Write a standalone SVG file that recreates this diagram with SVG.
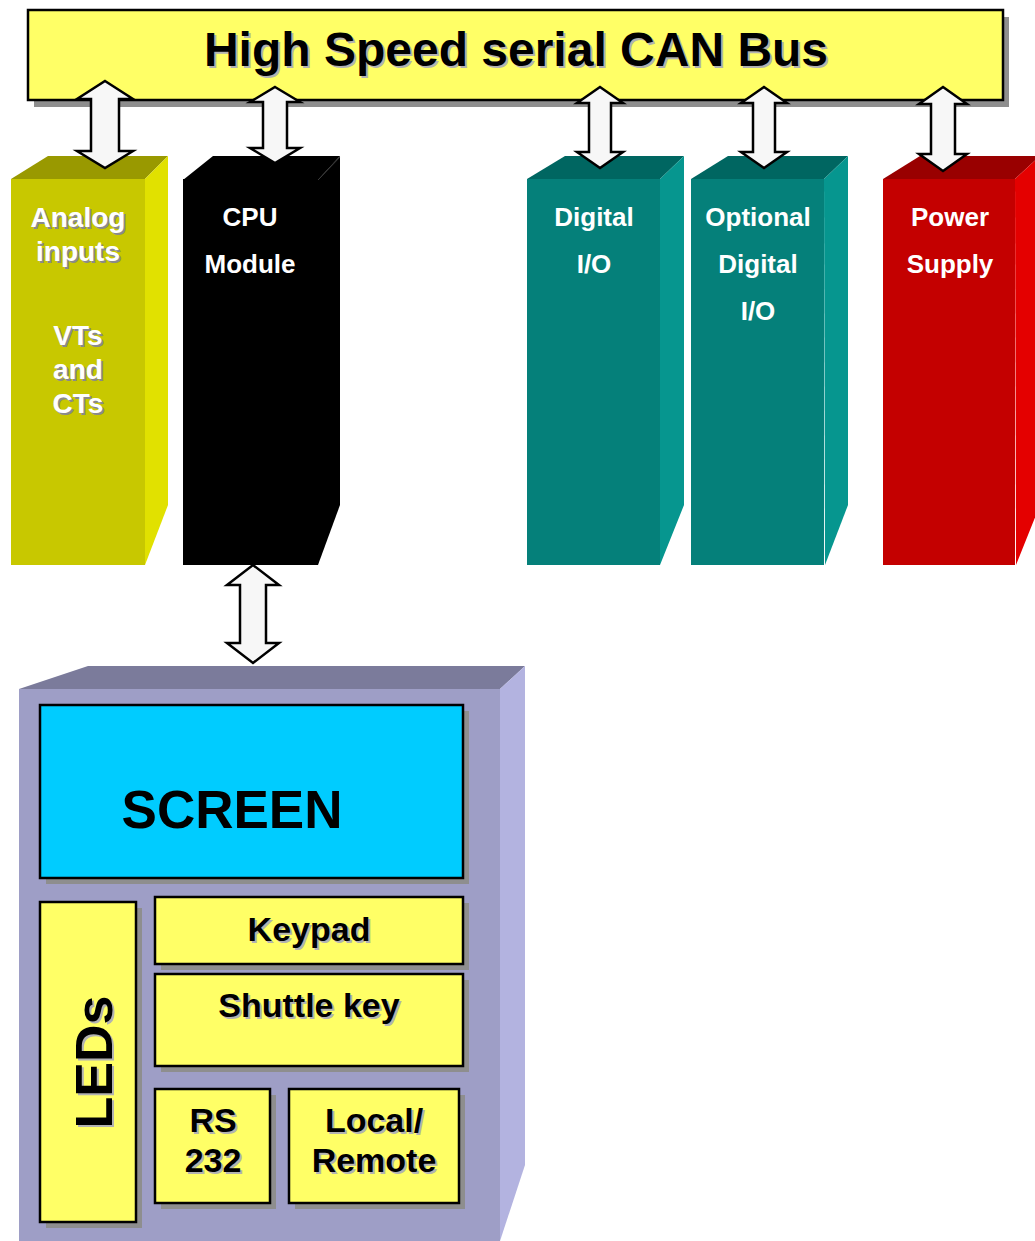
<svg xmlns="http://www.w3.org/2000/svg" width="1035" height="1241" viewBox="0 0 1035 1241">
<style>
.t{font-family:"Liberation Sans",Arial,sans-serif;font-weight:bold;text-anchor:middle}
.w{fill:#ffffff}
.k{fill:#000000}
.sh{fill:#b2b2b2}
.wsh{fill:#8a8a8a}
.box{stroke:#000;stroke-width:2.5}
.shadow{fill:#8e8e8e}
.arrow{fill:#f7f7f7;stroke:#000;stroke-width:2.5;stroke-linejoin:miter}
.yf{fill:#c8c800}.yt{fill:#999900}.ys{fill:#e1e100}
.tf{fill:#05807a}.tt{fill:#006661}.ts{fill:#06968f}
.rf{fill:#c40000}.rt{fill:#990000}.rs{fill:#e40000}
</style>
<rect width="1035" height="1241" fill="#ffffff"/>

<g id="bus">
<rect x="34" y="17" width="975" height="90" class="shadow"/>
<rect x="28" y="10" width="975" height="90" fill="#ffff66" class="box"/>
<text x="518" y="68" class="t sh" font-size="48">High Speed serial CAN Bus</text>
<text x="516" y="66" class="t k" font-size="48">High Speed serial CAN Bus</text>
</g>

<g id="analog">
<rect x="11" y="179" width="134" height="386" class="yf"/>
<polygon points="11,179 48,156 168,156 145,179" class="yt"/>
<polygon points="145,179 168,156 168,505 145,565" class="ys"/>
<g font-size="28">
<text x="80" y="229" class="t wsh">Analog</text>
<text x="78" y="227" class="t w">Analog</text>
<text x="80" y="263" class="t wsh">inputs</text>
<text x="78" y="261" class="t w">inputs</text>
<text x="80" y="347" class="t wsh">VTs</text>
<text x="78" y="345" class="t w">VTs</text>
<text x="80" y="381" class="t wsh">and</text>
<text x="78" y="379" class="t w">and</text>
<text x="80" y="415" class="t wsh">CTs</text>
<text x="78" y="413" class="t w">CTs</text>
</g>
</g>

<g id="cpu">
<rect x="183" y="179" width="135" height="386" fill="#000"/>
<polygon points="183,180 213,156 340,156 318,180" fill="#000"/>
<polygon points="318,180 340,156 340,505 318,565" fill="#000"/>
<line x1="318" y1="180" x2="340" y2="157" stroke="#3a3a3a" stroke-width="1"/>
<g font-size="26">
<text x="250" y="226" class="t w">CPU</text>
<text x="250" y="273" class="t w">Module</text>
</g>
</g>

<g id="digital">
<rect x="527" y="179" width="133" height="386" class="tf"/>
<polygon points="527,179 565,156 684,156 660,179" class="tt"/>
<polygon points="660,179 684,156 684,505 660,565" class="ts"/>
<g font-size="26">
<text x="594" y="226" class="t w">Digital</text>
<text x="594" y="273" class="t w">I/O</text>
</g>
</g>

<g id="optional">
<rect x="691" y="179" width="133" height="386" class="tf"/>
<polygon points="691,179 728,156 848,156 824,179" class="tt"/>
<polygon points="824,179 848,156 848,505 825,565" class="ts"/>
<g font-size="26">
<text x="758" y="226" class="t w">Optional</text>
<text x="758" y="273" class="t w">Digital</text>
<text x="758" y="320" class="t w">I/O</text>
</g>
</g>

<g id="power">
<rect x="883" y="179" width="132" height="386" class="rf"/>
<polygon points="883,179 920,156 1040,156 1015,179" class="rt"/>
<polygon points="1015,179 1040,156 1040,505 1016,565" class="rs"/>
<g font-size="26">
<text x="950" y="226" class="t w">Power</text>
<text x="950" y="273" class="t w">Supply</text>
</g>
</g>

<g id="panel">
<rect x="19" y="689" width="481" height="552" fill="#9e9ec6"/>
<polygon points="19,689 88,666 525,666 500,689" fill="#7b7b9b"/>
<polygon points="500,689 525,666 525,1165 500,1241" fill="#b3b3e0"/>
</g>

<g id="screen">
<rect x="46" y="711" width="423" height="173" class="shadow"/>
<rect x="40" y="705" width="423" height="173" fill="#00ccff" class="box"/>
<text x="232" y="828" class="t k" font-size="53">SCREEN</text>
</g>

<g id="leds">
<rect x="46" y="908" width="96" height="320" class="shadow"/>
<rect x="40" y="902" width="96" height="320" fill="#ffff66" class="box"/>
<text transform="translate(114,1064) rotate(-90)" class="t sh" font-size="52">LEDs</text>
<text transform="translate(112,1062) rotate(-90)" class="t k" font-size="52">LEDs</text>
</g>

<g id="keypad">
<rect x="161" y="903" width="308" height="67" class="shadow"/>
<rect x="155" y="897" width="308" height="67" fill="#ffff66" class="box"/>
<text x="311" y="943" class="t sh" font-size="34">Keypad</text>
<text x="309" y="941" class="t k" font-size="34">Keypad</text>
</g>

<g id="shuttle">
<rect x="161" y="980" width="308" height="92" class="shadow"/>
<rect x="155" y="974" width="308" height="92" fill="#ffff66" class="box"/>
<text x="311" y="1019" class="t sh" font-size="34">Shuttle key</text>
<text x="309" y="1017" class="t k" font-size="34">Shuttle key</text>
</g>

<g id="rs232">
<rect x="161" y="1095" width="115" height="114" class="shadow"/>
<rect x="155" y="1089" width="115" height="114" fill="#ffff66" class="box"/>
<text x="215" y="1134" class="t sh" font-size="34">RS</text>
<text x="213" y="1132" class="t k" font-size="34">RS</text>
<text x="215" y="1174" class="t sh" font-size="34">232</text>
<text x="213" y="1172" class="t k" font-size="34">232</text>
</g>

<g id="localremote">
<rect x="295" y="1095" width="170" height="114" class="shadow"/>
<rect x="289" y="1089" width="170" height="114" fill="#ffff66" class="box"/>
<text x="376" y="1134" class="t sh" font-size="34">Local/</text>
<text x="374" y="1132" class="t k" font-size="34">Local/</text>
<text x="376" y="1174" class="t sh" font-size="34">Remote</text>
<text x="374" y="1172" class="t k" font-size="34">Remote</text>
</g>

<g id="connectors">
<path class="arrow" d="M105,81 L133,99 L119,99 L119,151 L133,151 L105,168 L77,151 L91,151 L91,99 L77,99 Z"/>
<path class="arrow" d="M275,87 L300,102 L287,102 L287,148 L300,148 L275,163 L250,148 L263,148 L263,102 L250,102 Z"/>
<path class="arrow" d="M600,87 L623,103 L611,103 L611,152 L623,152 L600,168 L577,152 L589,152 L589,103 L577,103 Z"/>
<path class="arrow" d="M764,87 L787,103 L775,103 L775,152 L787,152 L764,168 L741,152 L753,152 L753,103 L741,103 Z"/>
<path class="arrow" d="M943,87 L967,104 L955,104 L955,154 L967,154 L943,171 L919,154 L931,154 L931,104 L919,104 Z"/>
<path class="arrow" d="M253,565 L279,585 L266,585 L266,643 L279,643 L253,663 L227,643 L240,643 L240,585 L227,585 Z"/>
</g>
</svg>
